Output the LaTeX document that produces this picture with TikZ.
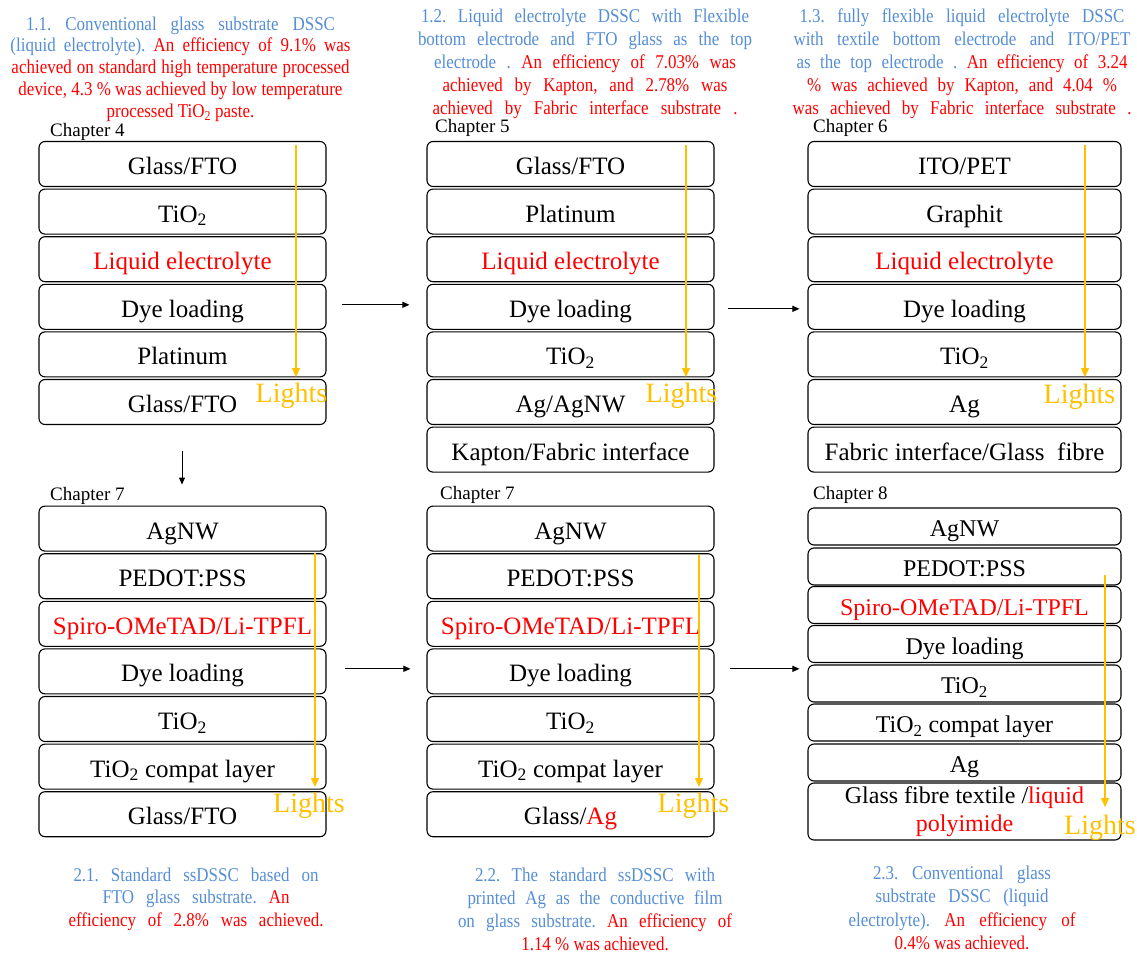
\documentclass[tikz,border=0pt]{standalone}
\usepackage{fontspec}
\setmainfont{Liberation Serif}
\newfontfamily\capfont[FakeStretch=0.87]{Liberation Serif}
\usetikzlibrary{arrows.meta}
\definecolor{capblue}{RGB}{85,142,213}
\definecolor{lightor}{RGB}{255,192,0}
\newcommand{\capln}[2]{\makebox[#1pt][s]{#2}}
\begin{document}
\begin{tikzpicture}[x=1pt,y=-1pt,
  lay/.style={draw, line width=1.1pt, rounded corners=6pt, minimum height=45pt, inner sep=0pt, text height=21pt, text depth=0pt, font=\fontsize{25}{30}\selectfont},
  wA/.style={lay, minimum width=287pt},
  wC/.style={lay, minimum width=313pt},
  wF/.style={lay, minimum width=313pt, minimum height=37pt, text height=20pt, font=\fontsize{24}{30}\selectfont},
  chap/.style={anchor=west, inner sep=0pt, font=\fontsize{19}{22}\selectfont},
  captxt/.style={align=center, inner sep=0pt, text=capblue},
  lightlbl/.style={inner sep=0pt, text=lightor, font=\fontsize{28}{30}\selectfont},
  lightarr/.style={draw=lightor, line width=1.1pt, -{Triangle[length=9pt,width=8pt]}},
  arr/.style={draw, line width=1pt, -{Triangle[length=7pt,width=6pt]}}
]
\useasboundingbox (0,0) rectangle (1137,953);

% captions top
\node[captxt, font=\capfont\frenchspacing\fontsize{19.5}{21.75}\selectfont] (cap1) at (180.5,69) {\capln{309}{1.1. Conventional glass substrate DSSC}\\
\capln{340}{(liquid electrolyte). \textcolor{red}{An efficiency of 9.1\% was}}\\
\capln{338}{\textcolor{red}{achieved on standard high temperature processed}}\\
\capln{324}{\textcolor{red}{device, 4.3 \% was achieved by low temperature}}\\
\textcolor{red}{processed TiO\textsubscript{2} paste.}};
\node[captxt, font=\capfont\frenchspacing\fontsize{19.5}{23}\selectfont] (cap2) at (585,64) {\capln{328}{1.2. Liquid electrolyte DSSC with Flexible}\\
\capln{334}{bottom electrode and FTO glass as the top}\\
\capln{302}{electrode . \textcolor{red}{An efficiency of 7.03\% was}}\\
\capln{285}{\textcolor{red}{achieved by Kapton, and 2.78\% was}}\\
\capln{305}{\textcolor{red}{achieved by Fabric interface substrate .}}};
\node[captxt, font=\capfont\frenchspacing\fontsize{19.5}{23}\selectfont] (cap3) at (962,64) {\capln{325}{1.3. fully flexible liquid electrolyte DSSC}\\
\capln{337}{with textile bottom electrode and ITO/PET}\\
\capln{331}{as the top electrode . \textcolor{red}{An efficiency of 3.24}}\\
\capln{310}{\textcolor{red}{\% was achieved by Kapton, and 4.04 \%}}\\
\capln{339}{\textcolor{red}{was achieved by Fabric interface substrate .}}};

% chapter labels
\node[chap] (ch4) at (50,132) {Chapter 4};
\node[chap] (ch5) at (435,128) {Chapter 5};
\node[chap] (ch6) at (813,128) {Chapter 6};
\node[chap] (ch7a) at (50,496) {Chapter 7};
\node[chap] (ch7b) at (440,495) {Chapter 7};
\node[chap] (ch8) at (813,495) {Chapter 8};

% column 1 top
\node[wA] (a1) at (182.5,164) {Glass/FTO};
\node[wA] (a2) at (182.5,211.6) {TiO\textsubscript{2}};
\node[wA, text=red] (a3) at (182.5,259.2) {Liquid electrolyte};
\node[wA] (a4) at (182.5,306.8) {Dye loading};
\node[wA] (a5) at (182.5,354.4) {Platinum};
\node[wA] (a6) at (182.5,402) {Glass/FTO};

% column 2 top
\node[wA] (b1) at (570.5,164) {Glass/FTO};
\node[wA] (b2) at (570.5,211.6) {Platinum};
\node[wA, text=red] (b3) at (570.5,259.2) {Liquid electrolyte};
\node[wA] (b4) at (570.5,306.8) {Dye loading};
\node[wA] (b5) at (570.5,354.4) {TiO\textsubscript{2}};
\node[wA] (b6) at (570.5,402) {Ag/AgNW};
\node[wA] (b7) at (570.5,449.6) {Kapton/Fabric interface};

% column 3 top
\node[wC] (c1) at (964.5,164) {ITO/PET};
\node[wC] (c2) at (964.5,211.6) {Graphit};
\node[wC, text=red] (c3) at (964.5,259.2) {Liquid electrolyte};
\node[wC] (c4) at (964.5,306.8) {Dye loading};
\node[wC] (c5) at (964.5,354.4) {TiO\textsubscript{2}};
\node[wC] (c6) at (964.5,402) {Ag};
\node[wC] (c7) at (964.5,449.6) {Fabric interface/Glass\ \ fibre};

% column 1 bottom
\node[wA] (d1) at (182.5,528.6) {AgNW};
\node[wA] (d2) at (182.5,576.2) {PEDOT:PSS};
\node[wA, text=red] (d3) at (182.5,623.8) {Spiro-OMeTAD/Li-TPFL};
\node[wA] (d4) at (182.5,671.4) {Dye loading};
\node[wA] (d5) at (182.5,719) {TiO\textsubscript{2}};
\node[wA] (d6) at (182.5,766.6) {TiO\textsubscript{2} compat layer};
\node[wA] (d7) at (182.5,814.2) {Glass/FTO};

% column 2 bottom
\node[wA] (e1) at (570.5,528.6) {AgNW};
\node[wA] (e2) at (570.5,576.2) {PEDOT:PSS};
\node[wA, text=red] (e3) at (570.5,623.8) {Spiro-OMeTAD/Li-TPFL};
\node[wA] (e4) at (570.5,671.4) {Dye loading};
\node[wA] (e5) at (570.5,719) {TiO\textsubscript{2}};
\node[wA] (e6) at (570.5,766.6) {TiO\textsubscript{2} compat layer};
\node[wA] (e7) at (570.5,814.2) {Glass/\textcolor{red}{Ag}};

% column 3 bottom
\node[wF] (f1) at (964.5,526.5) {AgNW};
\node[wF] (f2) at (964.5,566.5) {PEDOT:PSS};
\node[wF, text=red] (f3) at (964.5,605) {Spiro-OMeTAD/Li-TPFL};
\node[wF] (f4) at (964.5,644) {Dye loading};
\node[wF] (f5) at (964.5,683.5) {TiO\textsubscript{2}};
\node[wF] (f6) at (964.5,722.5) {TiO\textsubscript{2} compat layer};
\node[wF] (f7) at (964.5,762.5) {Ag};
\node[wF, minimum height=57pt, align=center, text height={}, text depth={}, font=\fontsize{24}{28}\selectfont] (f8) at (964.5,811.5) {Glass fibre textile /\textcolor{red}{liquid}\\\textcolor{red}{polyimide}};

% lights
\node[lightlbl] (L1) at (291.5,395.5) {Lights};
\node[lightlbl] (L2) at (681.5,395.5) {Lights};
\node[lightlbl] (L3) at (1079.5,396.5) {Lights};
\node[lightlbl] (L4) at (309,805.5) {Lights};
\node[lightlbl] (L5) at (693.5,805.5) {Lights};
\node[lightlbl] (L6) at (1100,828) {Lights};
\coordinate (s1) at (296,145);
\coordinate (t1) at (296,377);
\coordinate (s2) at (686,145);
\coordinate (t2) at (686,377);
\coordinate (s3) at (1085,145);
\coordinate (t3) at (1085,377);
\coordinate (s4) at (315,553);
\coordinate (t4) at (315,787);
\coordinate (s5) at (699,555);
\coordinate (t5) at (699,787);
\coordinate (s6) at (1105,575);
\coordinate (t6) at (1105,807);
\draw[lightarr] (s1) -- (t1);
\draw[lightarr] (s2) -- (t2);
\draw[lightarr] (s3) -- (t3);
\draw[lightarr] (s4) -- (t4);
\draw[lightarr] (s5) -- (t5);
\draw[lightarr] (s6) -- (t6);

% flow arrows
\draw[arr, shorten <=15pt, shorten >=17pt] ([yshift=2pt]a4.east) -- ([yshift=2pt]b4.west);
\draw[arr, shorten <=13pt, shorten >=8pt] ([yshift=-2pt]b4.east) -- ([yshift=-2pt]b4.east -| c4.west);
\draw[arr, shorten <=26pt, shorten >=21pt] (a6.south -| 182,0) -- (d1.north -| 182,0);
\draw[arr, shorten <=18pt, shorten >=16pt] ([yshift=2.6pt]d4.east) -- ([yshift=2.6pt]e4.west);
\draw[arr, shorten <=15pt, shorten >=8pt] ([yshift=2.6pt]e4.east) -- ([yshift=2.6pt]e4.east -| f4.west);

% captions bottom
\node[captxt, font=\capfont\frenchspacing\fontsize{19.5}{22.5}\selectfont] (cap4) at (196,899) {\capln{245}{2.1. Standard ssDSSC based on}\\
\capln{187}{FTO glass substrate. \textcolor{red}{An}}\\
\capln{255}{\textcolor{red}{efficiency of 2.8\% was achieved.}}};
\node[captxt, font=\capfont\frenchspacing\fontsize{19.5}{23}\selectfont] (cap5) at (595,909) {\capln{240}{2.2. The standard ssDSSC with}\\
\capln{255}{printed Ag as the conductive film}\\
\capln{274}{on glass substrate. \textcolor{red}{An efficiency of}}\\
\textcolor{red}{1.14 \% was achieved.}};
\node[captxt, font=\capfont\frenchspacing\fontsize{19.5}{23.3}\selectfont] (cap6) at (962,908) {\capln{178}{2.3. Conventional glass}\\
\capln{173}{substrate DSSC (liquid}\\
\capln{227}{electrolyte). \textcolor{red}{An efficiency of}}\\
\textcolor{red}{0.4\% was achieved.}};
\end{tikzpicture}
\end{document}
